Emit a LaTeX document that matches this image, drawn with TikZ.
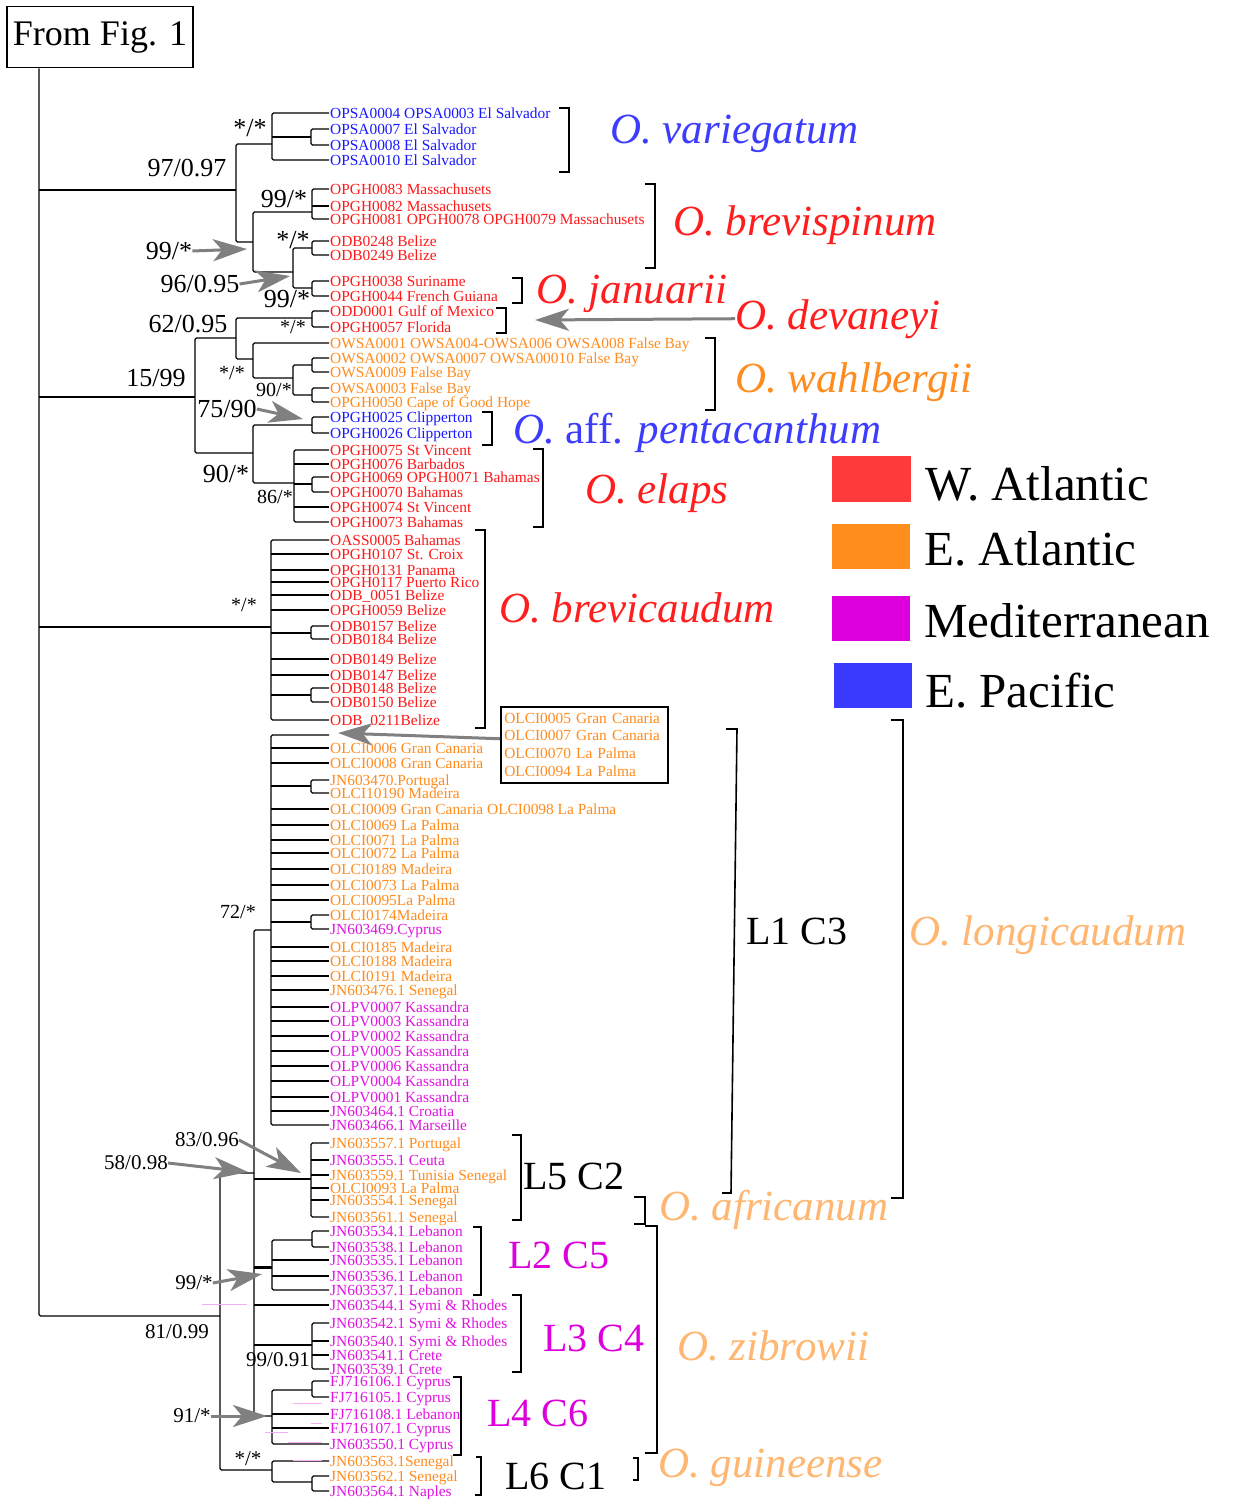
\documentclass[tikz,border=0pt]{standalone}
\usepackage{fontspec}
\setmainfont{Liberation Serif}
\usetikzlibrary{arrows.meta}
\definecolor{lb}{RGB}{25,25,255}
\definecolor{lr}{RGB}{255,25,25}
\definecolor{lo}{RGB}{255,140,30}
\definecolor{lm}{RGB}{225,20,225}
\definecolor{sb}{RGB}{60,60,255}
\definecolor{sr}{RGB}{255,30,30}
\definecolor{so}{RGB}{255,140,30}
\definecolor{po}{RGB}{255,182,112}
\definecolor{kr}{RGB}{255,58,58}
\definecolor{ko}{RGB}{255,142,30}
\definecolor{km}{RGB}{221,0,221}
\definecolor{kb}{RGB}{58,58,255}
\definecolor{ag}{RGB}{128,128,128}
\definecolor{pk}{RGB}{246,175,246}
\begin{document}
\begin{tikzpicture}[x=1pt,y=-1pt,
  tree/.style={line width=1.2pt, rounded corners=1.5pt},
  brk/.style={line width=2pt},
  leaf/.style={anchor=west, inner xsep=1pt, inner ysep=0pt, text height=11pt, text depth=1pt, font=\fontsize{15.4}{15.4}\selectfont},
  supl/.style={inner sep=0pt, font=\fontsize{26}{26}\selectfont},
  supm/.style={inner sep=0pt, font=\fontsize{21}{21}\selectfont},
  sups/.style={inner sep=0pt, font=\fontsize{20}{20}\selectfont},
  spec/.style={anchor=base west, inner sep=0pt, font=\fontsize{43}{43}\selectfont\itshape},
  clade/.style={anchor=base west, inner sep=0pt, font=\fontsize{40}{40}\selectfont},
  leg/.style={anchor=base west, inner sep=0pt, font=\fontsize{49}{49}\selectfont},
  garrow/.style={draw=ag, line width=3pt, -{Stealth[length=34pt,width=22pt,inset=9pt]}},
  pinkline/.style={draw=pk, line width=0.8pt}
]
\fill[white] (0,0) rectangle (1237,1499);
\useasboundingbox (0,0) rectangle (1237,1499);

% ---------- leaves ----------
\foreach \n/\y/\c/\t in {
l1/113/lb/OPSA0004 OPSA0003 El Salvador,
l2/129/lb/OPSA0007 El Salvador,
l3/145/lb/OPSA0008 El Salvador,
l4/160/lb/OPSA0010 El Salvador,
l5/189/lr/OPGH0083 Massachusets,
l6/206/lr/OPGH0082 Massachusets,
l7/219/lr/OPGH0081 OPGH0078 OPGH0079 Massachusets,
l8/241/lr/ODB0248 Belize,
l9/255/lr/ODB0249 Belize,
l10/281/lr/OPGH0038 Suriname,
l11/296/lr/OPGH0044 French Guiana,
l12/311/lr/ODD0001 Gulf of Mexico,
l13/327/lr/OPGH0057 Florida,
l14/343/lo/OWSA0001 OWSA004-OWSA006 OWSA008 False Bay,
l15/358/lo/OWSA0002 OWSA0007 OWSA00010 False Bay,
l16/372/lo/OWSA0009 False Bay,
l17/388/lo/OWSA0003 False Bay,
l18/402/lo/OPGH0050 Cape of Good Hope,
l19/417/lb/OPGH0025 Clipperton,
l20/433/lb/OPGH0026 Clipperton,
l21/450/lr/OPGH0075 St Vincent,
l22/464/lr/OPGH0076 Barbados,
l23/477/lr/OPGH0069 OPGH0071 Bahamas,
l24/492/lr/OPGH0070 Bahamas,
l25/507/lr/OPGH0074 St Vincent,
l26/522/lr/OPGH0073 Bahamas,
l27/540/lr/OASS0005 Bahamas,
l28/554/lr/OPGH0107 St. Croix,
l29/570/lr/OPGH0131 Panama,
l30/582/lr/OPGH0117 Puerto Rico,
l31/595/lr/ODB\_0051 Belize,
l32/610/lr/OPGH0059 Belize,
l33/626/lr/ODB0157 Belize,
l34/639/lr/ODB0184 Belize,
l35/659/lr/ODB0149 Belize,
l36/675/lr/ODB0147 Belize,
l37/688/lr/ODB0148 Belize,
l38/702/lr/ODB0150 Belize,
l39/720/lr/ODB\_0211Belize,
l41/748/lo/OLCI0006 Gran Canaria,
l42/763/lo/OLCI0008 Gran Canaria,
l43/780/lo/JN603470.Portugal,
l44/793/lo/OLCI10190 Madeira,
l45/809/lo/OLCI0009 Gran Canaria OLCI0098 La Palma,
l46/825/lo/OLCI0069 La Palma,
l47/840/lo/OLCI0071 La Palma,
l48/853/lo/OLCI0072 La Palma,
l49/869/lo/OLCI0189 Madeira,
l50/885/lo/OLCI0073 La Palma,
l51/900/lo/OLCI0095La Palma,
l52/915/lo/OLCI0174Madeira,
l53/929/lm/JN603469.Cyprus,
l54/947/lo/OLCI0185 Madeira,
l55/961/lo/OLCI0188 Madeira,
l56/976/lo/OLCI0191 Madeira,
l57/990/lo/JN603476.1 Senegal,
l58/1007/lm/OLPV0007 Kassandra,
l59/1021/lm/OLPV0003 Kassandra,
l60/1036/lm/OLPV0002 Kassandra,
l61/1051/lm/OLPV0005 Kassandra,
l62/1066/lm/OLPV0006 Kassandra,
l63/1081/lm/OLPV0004 Kassandra,
l64/1097/lm/OLPV0001 Kassandra,
l65/1111/lm/JN603464.1 Croatia,
l66/1125/lm/JN603466.1 Marseille,
l67/1143/lo/JN603557.1 Portugal,
l68/1160/lm/JN603555.1 Ceuta,
l69/1175/lo/JN603559.1 Tunisia Senegal,
l70/1188/lo/OLCI0093 La Palma,
l71/1200/lo/JN603554.1 Senegal,
l72/1217/lo/JN603561.1 Senegal,
l73/1231/lm/JN603534.1 Lebanon,
l74/1247/lm/JN603538.1 Lebanon,
l75/1260/lm/JN603535.1 Lebanon,
l76/1276/lm/JN603536.1 Lebanon,
l77/1290/lm/JN603537.1 Lebanon,
l78/1305/lm/JN603544.1 Symi \& Rhodes,
l79/1323/lm/JN603542.1 Symi \& Rhodes,
l80/1341/lm/JN603540.1 Symi \& Rhodes,
l81/1355/lm/JN603541.1 Crete,
l82/1369/lm/JN603539.1 Crete,
l83/1381/lm/FJ716106.1 Cyprus,
l84/1397/lm/FJ716105.1 Cyprus,
l85/1414/lm/FJ716108.1 Lebanon,
l86/1428/lm/FJ716107.1 Cyprus,
l87/1444/lm/JN603550.1 Cyprus,
l88/1461/lo/JN603563.1Senegal,
l89/1476/lo/JN603562.1 Senegal,
l90/1491/lm/JN603564.1 Naples}
{\node[leaf,text=\c] (\n) at (329,\y) {\t};}
\coordinate (l40) at (329,735);

% ---------- root box ----------
\node[draw, line width=1.5pt, minimum width=186pt, minimum height=61pt, inner sep=0pt,
      font=\fontsize{36}{36}\selectfont] (fig) at (100,37) {From Fig. 1};
\coordinate (rx) at (39,0);
\coordinate (bcx) at (271,0);
\coordinate (cx254) at (254,0);
\coordinate (cx272) at (272,0);
\coordinate (cx294) at (294,0);
\coordinate (cx311) at (311,0);
\coordinate (cx312) at (312,0);

% ---------- tree ----------
\draw[tree] (fig.south -| rx) -- (39,1316) -- (220,1316);
\draw[tree] (39,190) -- (236,190);
\draw[tree] (39,397) -- (195,397);
\draw[tree] (39,627) -- (271,627);
% variegatum + brevispinum + januarii
\draw[tree] (272,144) -| (236,190) |- (253,242);
\draw[tree] (l1.west) -| (272,144) |- (l4.west);
\draw[tree] (272,137) -- (311,137);
\draw[tree] (l2.west) -| (311,137) |- (l3.west);
\draw[tree] (312,212) -| (253,242) |- (293,272);
\draw[tree] (l5.west) -| (312,212) |- (l7.west);
\draw[tree] (l6.west -| cx312) -- (l6.west);
\draw[tree] (312,248) -| (293,272) |- (312,288);
\draw[tree] (l8.west) -| (312,248) |- (l9.west);
\draw[tree] (l10.west) -| (312,288) |- (l11.west);
% 15/99 clade
\draw[tree] (236,338) -| (195,397) |- (253,453);
\draw[tree] (312,318) -| (236,338) |- (253,359);
\draw[tree] (l12.west) -| (312,318) |- (l13.west);
\draw[tree] (l14.west) -| (253,359) |- (293,378);
\draw[tree] (312,365) -| (293,378) |- (312,395);
\draw[tree] (l15.west) -| (312,365) |- (l16.west);
\draw[tree] (l17.west) -| (312,395) |- (l18.west);
\draw[tree] (312,425) -| (253,453) |- (294,483);
\draw[tree] (l19.west) -| (312,425) |- (l20.west);
\draw[tree] (l21.west) -| (294,483) |- (l26.west);
\draw[tree] (l22.west -| cx294) -- (l22.west);
\draw[tree] (l25.west -| cx294) -- (l25.west);
\draw[tree] (294,484) -- (312,484);
\draw[tree] (l23.west) -| (312,484) |- (l24.west);
% brevicaudum
\draw[tree] (l27.west) -| (271,627) |- (l39.west);
\foreach \k in {28,29,30,31,32,35,36} {\draw[tree] (l\k.west -| bcx) -- (l\k.west);}
\draw[tree] (271,633) -- (311,633);
\draw[tree] (l33.west) -| (311,633) |- (l34.west);
\draw[tree] (271,695) -- (311,695);
\draw[tree] (l37.west) -| (311,695) |- (l38.west);
% L1 C3
\draw[tree] (l40) -| (271,930) |- (l66.west);
\foreach \k in {41,42,45,46,47,48,49,50,51,54,55,56,57,58,59,60,61,62,63,64,65} {\draw[tree] (l\k.west -| bcx) -- (l\k.west);}
\draw[tree] (271,786) -- (311,786);
\draw[tree] (l43.west) -| (311,786) |- (l44.west);
\draw[tree] (271,922) -- (311,922);
\draw[tree] (l52.west) -| (311,922) |- (l53.west);
% 72/* node
\draw[tree] (271,930) -| (254,1173) |- (272,1416);
% L5 C2
\draw[tree] (254,1179) -- (311,1179);
\draw[tree] (l67.west) -| (311,1179) |- (l72.west);
\foreach \k in {68,69,70,71} {\draw[tree] (l\k.west -| cx311) -- (l\k.west);}
% L2 C5
\draw[line width=3pt] (254,1267) -- (272,1267);
\draw[tree] (312,1240) -| (272,1267) |- (l77.west);
\foreach \k in {75,76} {\draw[tree] (l\k.west -| cx272) -- (l\k.west);}
\draw[tree] (l73.west) -| (312,1240) |- (l74.west);
% L3 C4
\draw[tree] (l78.west -| cx254) -- (l78.west);
\draw[tree] (254,1345) -- (312,1345);
\draw[tree] (l79.west) -| (312,1345) |- (l82.west);
\foreach \k in {80,81} {\draw[tree] (l\k.west -| cx312) -- (l\k.west);}
% L4 C6
\draw[tree] (312,1390) -| (272,1416) |- (l87.west);
\foreach \k in {85,86} {\draw[tree] (l\k.west -| cx272) -- (l\k.west);}
\draw[tree] (l83.west) -| (312,1390) |- (l84.west);
% 81/0.99 and L6 C1
\draw[tree] (254,1173) -| (220,1316) |- (272,1470);
\draw[tree] (l88.west) -| (272,1470) |- (312,1482);
\draw[tree] (l89.west) -| (312,1482) |- (l90.west);

% faint artefact lines
\draw[pinkline] (202,1304) -- (247,1304);
\draw[pinkline] (293,1403) -- (322,1403);
\draw[pinkline] (311,1423) -- (322,1423);
\draw[pinkline] (265,1432) -- (288,1432);
\draw[pinkline] (288,1442) -- (322,1442);
\draw[pinkline] (293,1460) -- (322,1460);

% ---------- support values ----------
\node[supl] (s1) at (250,128) {*/*};
\node[supl] (s2) at (187,168) {97/0.97};
\node[supl] (s3) at (284,199) {99/*};
\node[supl] (s4) at (293,240) {*/*};
\node[supl] (s5) at (169,251) {99/*};
\node[supl] (s6) at (200,284) {96/0.95};
\node[supl] (s7) at (287,299) {99/*};
\node[supl] (s8) at (188,324) {62/0.95};
\node[sups] (s9) at (293,327) {*/*};
\node[supl] (s10) at (156,378) {15/99};
\node[sups] (s11) at (232,373) {*/*};
\node[sups] (s12) at (274,390) {90/*};
\node[supl] (s13) at (227,409) {75/90};
\node[supl] (s14) at (226,474) {90/*};
\node[sups] (s15) at (275,497) {86/*};
\node[sups] (s16) at (244,605) {*/*};
\node[sups] (s17) at (238,912) {72/*};
\node[supm] (s18) at (207,1140) {83/0.96};
\node[supm] (s19) at (136,1163) {58/0.98};
\node[supm] (s20) at (194,1283) {99/*};
\node[supm] (s21) at (177,1332) {81/0.99};
\node[supm] (s22) at (278,1360) {99/0.91};
\node[supm] (s23) at (192,1416) {91/*};
\node[supm] (s24) at (248,1459) {*/*};

% ---------- grey arrows ----------
\coordinate (t1) at (247,249);
\coordinate (t2) at (290,276);
\coordinate (t3) at (303,419);
\coordinate (t4) at (535,320);
\coordinate (t5) at (338,733);
\coordinate (t6) at (301,1173);
\coordinate (t7) at (248,1172);
\coordinate (t8) at (262,1274);
\coordinate (t9) at (267,1416);
\draw[garrow] (s5.east) -- (t1);
\draw[garrow] (s6.east) -- (t2);
\draw[garrow] (s13.east) -- (t3);
\draw[garrow] (s18.east) -- (t6);
\draw[garrow] (s19.east) -- (t7);
\draw[garrow] (s20.east) -- (t8);
\draw[garrow] (s23.east) -- (t9);

% ---------- OLCI box ----------
\node[draw, line width=1.5pt, anchor=north west, minimum width=167pt, minimum height=76pt,
      text width=160pt, align=left, inner xsep=3.5pt, inner ysep=3pt, text=lo,
      font=\fontsize{15.4}{17.7}\selectfont] (olbox) at (500,706)
      {OLCI0005 Gran Canaria\\OLCI0007 Gran Canaria\\OLCI0070 La Palma\\OLCI0094 La Palma};
\draw[garrow] ([yshift=6pt]olbox.west) -- (t5);

% ---------- brackets ----------
\draw[brk] (559,108) -- (569,108) -- (569,172) -- (559,172);
\draw[brk] (645,184) -- (655,184) -- (655,268) -- (645,268);
\draw[brk] (512,278) -- (522,278) -- (522,303) -- (512,303);
\draw[brk] (496,308) -- (506,308) -- (506,333) -- (496,333);
\draw[brk] (705,338) -- (715,338) -- (715,410) -- (705,410);
\draw[brk] (482,412) -- (492,412) -- (492,445) -- (482,445);
\draw[brk] (533,449) -- (543,449) -- (543,527) -- (533,527);
\draw[brk] (475,530) -- (485,530) -- (485,728) -- (475,728);
\draw[line width=1.6pt] (726,729) -- (737,729) -- (731,1193) -- (722,1193);
\draw[brk] (891,720) -- (903,720) -- (903,1198) -- (891,1198);
\draw[brk] (512,1135) -- (521,1135) -- (521,1220) -- (512,1220);
\draw[brk] (634,1197) -- (645,1197) -- (645,1224) -- (634,1224);
\draw[brk] (473,1227) -- (481,1227) -- (481,1295) -- (473,1295);
\draw[brk] (512,1295) -- (521,1295) -- (521,1372) -- (512,1372);
\draw[brk] (453,1377) -- (461,1377) -- (461,1455) -- (453,1455);
\draw[brk] (476,1457) -- (481,1457) -- (481,1495) -- (475,1495);
\draw[brk] (645,1226) -- (657,1226) -- (657,1453) -- (645,1453);
\draw[brk] (633,1458) -- (638,1458) -- (638,1480) -- (633,1480);

% ---------- species labels ----------
\node[spec,text=sb] (n1) at (610,143) {O. variegatum};
\node[spec,text=sr] (n2) at (673,235) {O. brevispinum};
\node[spec,text=sr] (n3) at (536,303) {O. januarii};
\node[spec,text=sr] (n4) at (735,329) {O. devaneyi};
\node[spec,text=so] (n5) at (735,392) {O. wahlbergii};
\node[spec,text=sb] (n6) at (513,443) {O. {\upshape aff.} pentacanthum};
\node[spec,text=sr] (n7) at (585,503) {O. elaps};
\node[spec,text=sr] (n8) at (499,622) {O. brevicaudum};
\node[spec,text=po] (n9) at (909,945) {O. longicaudum};
\node[spec,text=po] (n10) at (659,1220) {O. africanum};
\node[spec,text=po] (n11) at (677,1360) {O. zibrowii};
\node[spec,text=po] (n12) at (658,1477) {O. guineense};
\draw[garrow] (n4.west) -- (t4);

% ---------- lineage labels ----------
\node[clade] (c1) at (746,944) {L1 C3};
\node[clade] (c2) at (523,1189) {L5 C2};
\node[clade,text=km] (c3) at (508,1268) {L2 C5};
\node[clade,text=km] (c4) at (543,1351) {L3 C4};
\node[clade,text=km] (c5) at (487,1426) {L4 C6};
\node[clade] (c6) at (505,1489) {L6 C1};

% ---------- legend ----------
\fill[kr] (832,456) rectangle (911,502);
\fill[ko] (832,524) rectangle (910,569);
\fill[km] (832,596) rectangle (910,641);
\fill[kb] (834,663) rectangle (912,708);
\node[leg] (g1) at (925,500) {W. Atlantic};
\node[leg] (g2) at (924,565) {E. Atlantic};
\node[leg] (g3) at (924,637) {Mediterranean};
\node[leg] (g4) at (925,707) {E. Pacific};
\end{tikzpicture}
\end{document}
